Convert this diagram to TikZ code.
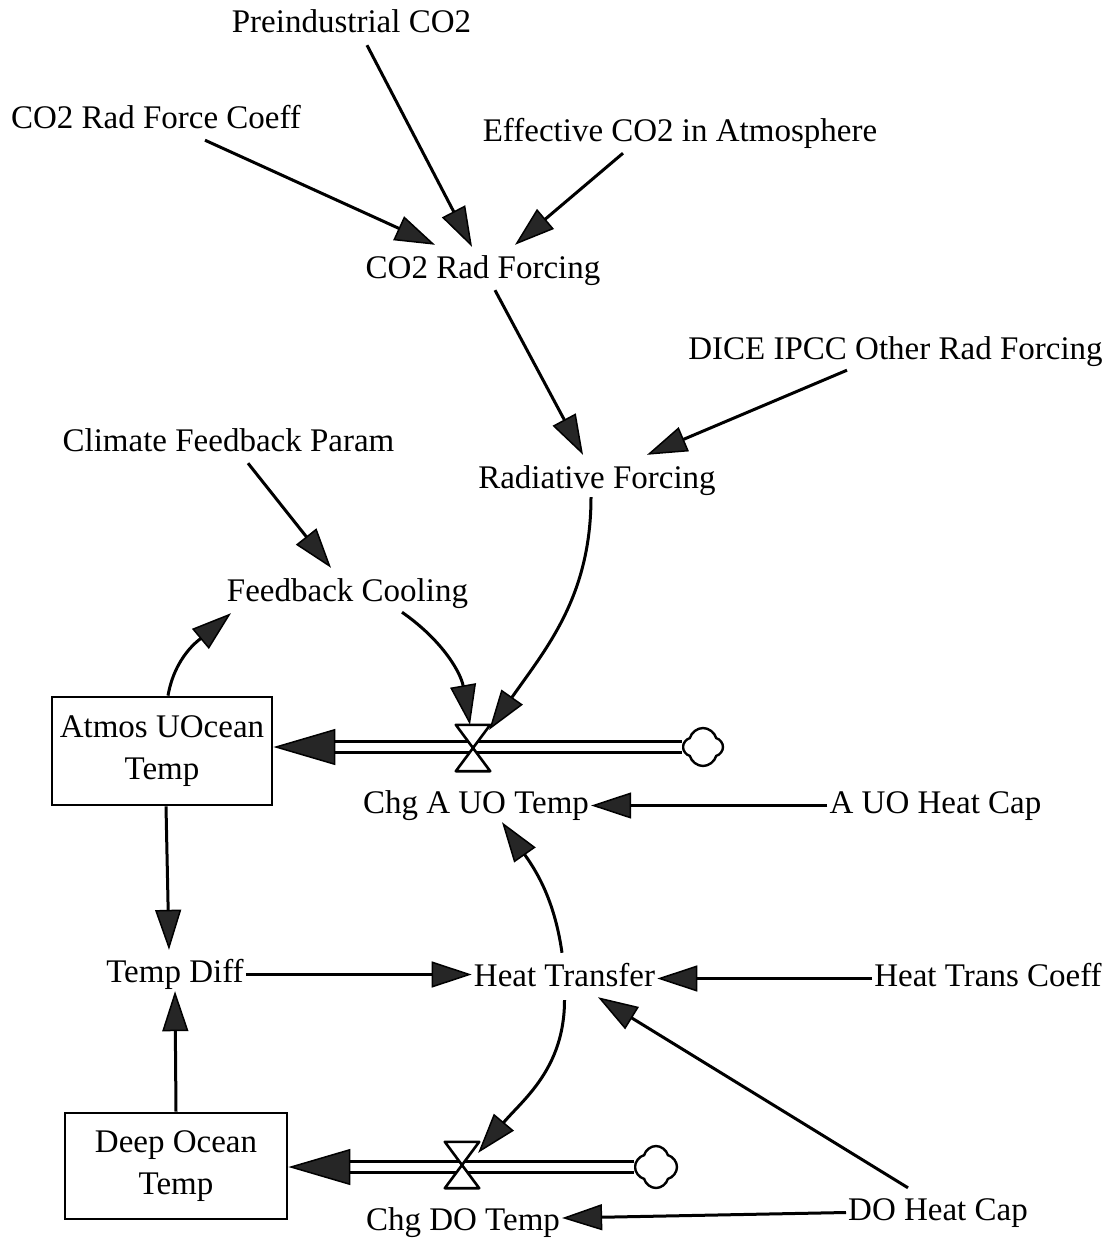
\documentclass[tikz,border=0pt]{standalone}
\usepackage{fontspec}
\setmainfont{Liberation Serif}
\usetikzlibrary{arrows.meta,shapes.symbols}
\definecolor{tipgray}{RGB}{38,38,38}
\tikzset{
  var/.style={font=\fontsize{33}{40}\selectfont, inner sep=2pt, text height=22pt, text depth=7pt, anchor=base},
  stock/.style={draw, line width=2.8pt, minimum width=220pt, minimum height=108pt, align=center, font=\fontsize{33}{42}\selectfont},
  link/.style={-{Triangle[length=40pt,width=26pt,fill=tipgray,line width=1.5pt]}, line width=3pt},
  flow/.style={-{Triangle[length=62pt,width=36pt,fill=tipgray,line width=1.5pt]}, line width=2.8pt, double distance=8pt},
  valve/.style={minimum width=34pt, minimum height=46pt, inner sep=0pt},
  valveline/.style={draw, fill=white, line width=2.6pt, line join=round},
  cloudsrc/.style={cloud, cloud puffs=4, cloud puff arc=150, aspect=1, draw, line width=2.4pt, minimum width=40pt, minimum height=38pt, inner sep=0pt}
}
\begin{document}
\begin{tikzpicture}[x=1pt, y=1pt]
  \useasboundingbox (0,0) rectangle (1112,-1238);
  % variables
  \node[var] (pre) at (351.5,-33) {Preindustrial CO2};
  \node[var] (coeff) at (156,-129) {CO2 Rad Force Coeff};
  \node[var] (eff) at (680,-142) {Effective CO2 in Atmosphere};
  \node[var] (co2rf) at (483,-279) {CO2 Rad Forcing};
  \node[var] (dice) at (895.5,-359) {DICE IPCC Other Rad Forcing};
  \node[var] (cfp) at (228.5,-451) {Climate Feedback Param};
  \node[var] (rf) at (597,-488) {Radiative Forcing};
  \node[var] (fc) at (347.5,-601) {Feedback Cooling};
  \node[var] (chga) at (476,-813) {Chg A UO Temp};
  \node[var] (auohc) at (935.5,-813) {A UO Heat Cap};
  \node[var] (td) at (175,-982) {Temp Diff};
  \node[var] (ht) at (564.5,-986) {Heat Transfer};
  \node[var] (htc) at (988,-986) {Heat Trans Coeff};
  \node[var] (chgdo) at (463,-1230) {Chg DO Temp};
  \node[var] (dohc) at (938,-1220) {DO Heat Cap};
  % stocks, sources, valves
  \node[stock] (atmos) at (162,-751) {Atmos UOcean\\Temp};
  \node[stock, minimum width=222pt, minimum height=106pt] (deep) at (176,-1166) {Deep Ocean\\Temp};
  \node[cloudsrc] (src1) at (703,-747) {};
  \node[cloudsrc, minimum width=42pt, minimum height=42pt] (src2) at (656,-1167) {};
  \node[valve] (v1) at (473,-748) {};
  \node[valve] (v2) at (462,-1165) {};
  % flows
  \draw[flow] (src1.west) -- (src1.west -| atmos.east);
  \draw[flow] (src2.west) -- (src2.west -| deep.east);
  \draw[valveline] (v1.north west) -- (v1.north east) -- (v1.south west) -- (v1.south east) -- cycle;
  \draw[valveline] (v2.north west) -- (v2.north east) -- (v2.south west) -- (v2.south east) -- cycle;
  % links
  \draw[link] ([shift={(15.5,-3)}]pre.south) -- ([shift={(-11,8)}]co2rf.north);
  \draw[link] ([shift={(49,-2)}]coeff.south) -- ([shift={(-48,10)}]co2rf.north);
  \draw[link] ([shift={(-57,-2)}]eff.south) -- ([shift={(32,10)}]co2rf.north);
  \draw[link] ([shift={(12,-2)}]co2rf.south) -- ([shift={(-14,9)}]rf.north);
  \draw[link] ([shift={(-48.5,-2)}]dice.south) -- ([shift={(50,9)}]rf.north);
  \draw[link] ([shift={(19.5,-3)}]cfp.south) -- ([shift={(-16.5,9)}]fc.north);
  \draw[link] ([xshift=-6pt]rf.south) to[out=-90, in=55] ([shift={(-1,-5)}]v1.north east);
  \draw[link] ([shift={(54.5,-2)}]fc.south) to[out=-35, in=100] ([xshift=-3pt]v1.north);
  \draw[link] ([xshift=6pt]atmos.north) to[out=80, in=220] ([shift={(-116.5,-3)}]fc.south);
  \draw[link] ([xshift=4pt]atmos.south) -- ([shift={(-6,8)}]td.north);
  \draw[link] (deep.north) -- (td.south);
  \draw[link] (td.east) -- (td.east -| ht.west);
  \draw[link] (htc.west) -- (htc.west -| ht.east);
  \draw[link] (auohc.west) -- (chga.east);
  \draw[link] ([shift={(-2.5,9)}]ht.north) to[out=98, in=-55] ([xshift=26pt]chga.south);
  \draw[link] ([yshift=-5pt]ht.south) to[out=-90, in=50] ([shift={(-1,-11)}]v2.north east);
  \draw[link] ([shift={(-30,8)}]dohc.north) -- ([shift={(33.5,-2)}]ht.south);
  \draw[link] (dohc.west) -- ([yshift=4.5pt]chgdo.east);
\end{tikzpicture}
\end{document}
